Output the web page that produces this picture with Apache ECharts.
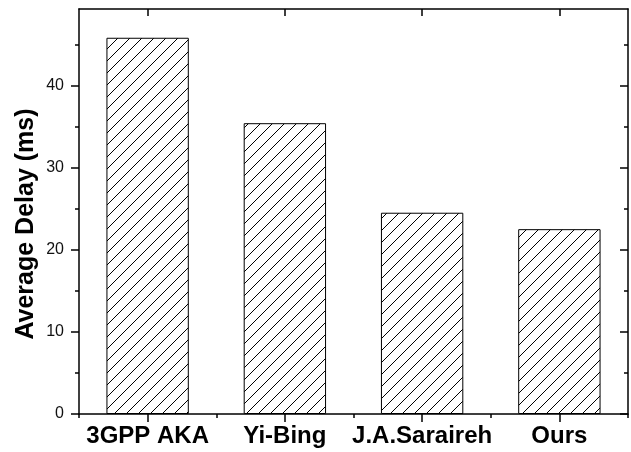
<!DOCTYPE html>
<html>
<head>
<meta charset="utf-8">
<script src="https://cdn.jsdelivr.net/npm/echarts@6/dist/echarts.min.js"></script>
<style>
  html, body { margin: 0; padding: 0; background: #fff; }
  #chart { width: 631px; height: 452px; }
</style>
</head>
<body>
<div id="chart"></div>
<script>
// Average delay per scheme
const categories = ['3GPP AKA', 'Yi-Bing', 'J.A.Saraireh', 'Ours'];
const delays = [45.8, 35.4, 24.5, 22.5];
const majorTicks = [0, 10, 20, 30, 40];
const minorTicks = [5, 15, 25, 35, 45];
const yMax = 49.3;

// Diagonal hatch tile used to fill the bars
function hatchTile() {
  const s = 12;
  const c = document.createElement('canvas');
  c.width = s; c.height = s;
  const g = c.getContext('2d');
  g.fillStyle = '#fff';
  g.fillRect(0, 0, s, s);
  g.strokeStyle = '#000';
  g.lineWidth = 1;
  g.beginPath();
  g.moveTo(0, s); g.lineTo(s, 0);
  g.moveTo(-2, 2); g.lineTo(2, -2);
  g.moveTo(s - 2, s + 2); g.lineTo(s + 2, s - 2);
  g.stroke();
  return c;
}

const font = 'Liberation Sans, Arial, sans-serif';
const lineStyle = { color: '#000', width: 1.5 };
const tickStyle = { color: '#000', width: 1.5 };

function catAxis(pos, opts) {
  return Object.assign({
    type: 'category', data: categories, position: pos,
    boundaryGap: true,
    axisLine: { show: false },
    axisLabel: { show: false },
    splitLine: { show: false }
  }, opts);
}
function valAxis(pos, opts) {
  return Object.assign({
    type: 'value', min: 0, max: yMax, position: pos,
    axisLine: { show: false },
    axisLabel: { show: false },
    splitLine: { show: false }
  }, opts);
}

const chart = echarts.init(document.getElementById('chart'), null, { renderer: 'canvas' });
chart.setOption({
  animation: false,
  backgroundColor: '#fff',
  grid: { left: 79, right: 3, top: 9, bottom: 38, containLabel: false },
  xAxis: [
    catAxis('bottom', {
      axisLine: { show: true, onZero: false, lineStyle },
      axisTick: { show: true, alignWithLabel: true, length: 8, lineStyle: tickStyle },
      axisLabel: { show: true, interval: 0, margin: 10, color: '#000', fontFamily: font, fontWeight: 'bold', fontSize: 24 }
    }),
    catAxis('bottom', {
      axisTick: { show: true, length: 4, lineStyle: tickStyle }
    }),
    catAxis('top', {
      axisLine: { show: true, onZero: false, lineStyle },
      axisTick: { show: true, inside: true, alignWithLabel: true, length: 7, lineStyle: tickStyle }
    }),
    catAxis('top', {
      axisTick: { show: true, inside: true, length: 4, lineStyle: tickStyle }
    })
  ],
  yAxis: [
    valAxis('left', {
      axisLine: { show: true, onZero: false, lineStyle },
      axisTick: { show: true, length: 8, customValues: majorTicks, lineStyle: tickStyle },
      axisLabel: { show: true, customValues: majorTicks, margin: 15, color: '#111', fontFamily: font, fontSize: 16 }
    }),
    valAxis('left', {
      axisTick: { show: true, length: 4, customValues: minorTicks, lineStyle: tickStyle }
    }),
    valAxis('right', {
      axisLine: { show: true, onZero: false, lineStyle },
      axisTick: { show: true, inside: true, length: 8, customValues: majorTicks, lineStyle: tickStyle }
    }),
    valAxis('right', {
      axisTick: { show: true, inside: true, length: 4, customValues: minorTicks, lineStyle: tickStyle }
    })
  ],
  graphic: [{
    type: 'text',
    x: 26, y: 224,
    rotation: Math.PI / 2,
    style: {
      text: 'Average Delay (ms)',
      font: 'bold 25px Liberation Sans, Arial, sans-serif',
      fill: '#000',
      textAlign: 'center',
      textVerticalAlign: 'middle'
    }
  }],
  series: [{
    type: 'bar',
    xAxisIndex: 0,
    yAxisIndex: 0,
    data: delays,
    barWidth: '60%',
    itemStyle: {
      color: { image: hatchTile(), repeat: 'repeat' },
      borderColor: '#000',
      borderWidth: 1
    }
  }]
});
</script>
</body>
</html>
